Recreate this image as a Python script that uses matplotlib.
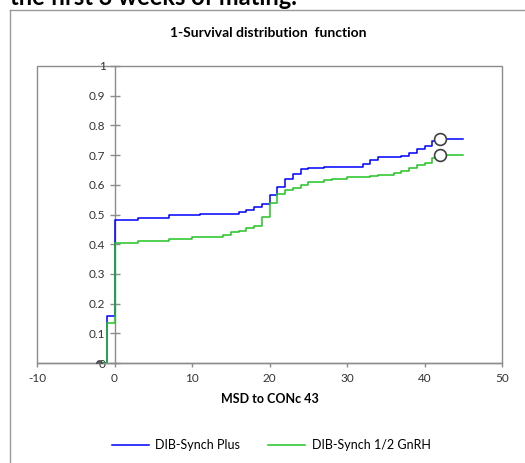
import matplotlib
matplotlib.use("Agg")
import matplotlib.pyplot as plt
from matplotlib.lines import Line2D
from matplotlib.patches import Rectangle

plt.rcParams['font.family'] = ['Lato', 'DejaVu Sans']

# Data
plus_x = [-2, -1, 0, 1, 3, 7, 11, 16, 17, 18, 19, 20, 21, 22, 23, 24, 25, 27, 32, 33, 34, 37, 38, 39, 40, 41, 42, 45]
plus_y = [0, 0.157, 0.48, 0.483, 0.487, 0.497, 0.503, 0.507, 0.516, 0.525, 0.537, 0.565, 0.594, 0.619, 0.638,
          0.652, 0.656, 0.66, 0.671, 0.685, 0.692, 0.698, 0.707, 0.72, 0.73, 0.747, 0.754, 0.754]
half_x = [-2, -1, 0, 3, 7, 10, 14, 15, 16, 17, 18, 19, 20, 21, 22, 23, 24, 25, 27, 28, 30, 33, 34, 36, 37, 38,
          39, 40, 41, 42, 45]
half_y = [0, 0.133, 0.404, 0.41, 0.417, 0.425, 0.43, 0.44, 0.444, 0.453, 0.462, 0.49, 0.539, 0.569, 0.584, 0.59,
          0.599, 0.608, 0.616, 0.619, 0.625, 0.629, 0.632, 0.639, 0.648, 0.657, 0.666, 0.675, 0.689, 0.70, 0.70]
censor_x = [42, 42]
censor_y = [0.754, 0.70]
start_x = [-2]
start_y = [0]

series_names = ["DIB-Synch Plus", "DIB-Synch 1/2 GnRH"]
x_ticks = [-10, 0, 10, 20, 30, 40, 50]
y_ticks = [0, 0.1, 0.2, 0.3, 0.4, 0.5, 0.6, 0.7, 0.8, 0.9, 1]
y_ticklabels = ["0", "0.1", "0.2", "0.3", "0.4", "0.5", "0.6", "0.7", "0.8", "0.9", "1"]

W, H = 525, 463
fig = plt.figure(figsize=(W / 100, H / 100), dpi=100)
fig.patch.set_facecolor('white')

ax = fig.add_axes([37 / W, 1 - 363 / H, (502 - 37) / W, (363 - 66) / H])

blue = '#0000ff'
green = '#22c422'
ax.step(plus_x, plus_y, where='post', color=blue, lw=1.1, label=series_names[0], zorder=3)
ax.step(half_x, half_y, where='post', color=green, lw=1.1, label=series_names[1], zorder=4)
ax.plot(censor_x, censor_y, linestyle='none', marker='o', ms=8.5, mfc='white', mec='#404040', mew=1.2, zorder=5)
ax.plot(start_x, start_y, linestyle='none', marker='o', ms=4, mfc='#606060', mec='#404040', mew=0.8, zorder=5)

ax.set_xlim(-10, 50)
ax.set_ylim(0, 1)

gray = '#8c8c8c'
for s in ['top', 'right']:
    ax.spines[s].set_visible(False)
ax.spines['left'].set_position(('data', 0))
ax.spines['left'].set_color(gray)
ax.spines['bottom'].set_color(gray)
ax.spines['left'].set_linewidth(1.0)
ax.spines['bottom'].set_linewidth(1.0)
ax.add_patch(Rectangle((0, 0), 1, 1, transform=ax.transAxes, fill=False, edgecolor=gray, lw=1.0,
                       clip_on=False, zorder=1))

ax.set_xticks(x_ticks)
ax.set_xticklabels([str(t) for t in x_ticks])
ax.set_yticks(y_ticks)
ax.set_yticklabels(y_ticklabels)
ax.tick_params(axis='x', direction='out', length=3, width=1.0, color=gray, labelsize=8.5,
               labelcolor='#333333', pad=4)
ax.tick_params(axis='y', direction='inout', length=7, width=1.0, color=gray, labelsize=8.5,
               labelcolor='#333333', pad=3)

ax.set_xlabel('MSD to CONc 43', fontsize=9, fontweight='bold', labelpad=7)

fig.text(268 / W, 1 - 33 / H, '1-Survival distribution  function', ha='center', va='center',
         fontsize=10, fontweight='bold')

fig.legend(loc='center', bbox_to_anchor=(271 / W, 1 - 445 / H), ncol=2, frameon=False, fontsize=9,
           handlelength=3.0, columnspacing=2.2, handletextpad=0.5)

# outer chart border and cut heading text
fig.add_artist(Line2D([10 / W, 10 / W], [0, 1 - 10 / H], color='#9a9a9a', lw=1.0))
fig.add_artist(Line2D([10 / W, 1], [1 - 10 / H, 1 - 10 / H], color='#9a9a9a', lw=1.0))
fig.text(10 / W, 1 - 5 / H, 'the first 3 weeks of mating.', ha='left', va='baseline', fontsize=17,
         fontweight='bold')

fig.savefig('out.png', dpi=100)
